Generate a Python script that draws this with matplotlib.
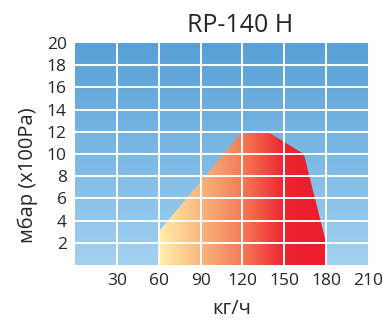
import numpy as np
import matplotlib.pyplot as plt
from matplotlib.colors import LinearSegmentedColormap
from matplotlib.patches import Polygon

plt.rcParams['font.family'] = ['Open Sans', 'DejaVu Sans']

# working field of the burner (flow kg/h, pressure mbar)
flow = [60, 60, 120, 138, 164, 180, 180]
pressure = [0, 3, 12, 12, 10, 2, 0]

x_ticks = [30, 60, 90, 120, 150, 180, 210]
y_ticks = [2, 4, 6, 8, 10, 12, 14, 16, 18, 20]

txt = '#262626'

fig = plt.figure(figsize=(3.83, 3.2), dpi=100)
ax = fig.add_axes([75/383, 1-265/320, 293/383, 222/320])
ax.set_xlim(0, 210)
ax.set_ylim(0, 20)

# background blue gradient
bg = LinearSegmentedColormap.from_list('bg', ['#a3d1f1', '#56a0d7'])
ax.imshow(np.linspace(0, 1, 256).reshape(-1, 1), cmap=bg, origin='lower',
          extent=[0, 210, 0, 20], aspect='auto', zorder=0)

# polygon with horizontal gradient
fire = LinearSegmentedColormap.from_list('fire', [
    (0.0, '#fff0a8'), (0.25, '#f9b57c'), (0.5, '#f37a55'),
    (0.75, '#ee2330'), (1.0, '#ed1c2e')])
poly = Polygon(np.column_stack([flow, pressure]), closed=True,
               facecolor='none', edgecolor='none')
ax.add_patch(poly)
im = ax.imshow(np.linspace(0, 1, 256).reshape(1, -1), cmap=fire,
               extent=[60, 180, 0, 12], aspect='auto', zorder=1)
im.set_clip_path(poly)

for v in x_ticks[:-1]:
    ax.axvline(v, color='white', lw=1.4, zorder=3)
for v in y_ticks[:-1]:
    ax.axhline(v, color='white', lw=1.4, zorder=3)

ax.set_xticks(x_ticks)
ax.set_yticks(y_ticks)
ax.tick_params(length=0, labelsize=12.5, colors=txt, pad=6)
for s in ax.spines.values():
    s.set_visible(False)

ax.set_xlabel('кг/ч', fontsize=14.5, color=txt, labelpad=7, x=0.536)
ax.set_ylabel('мбар (x100Pa)', fontsize=14.5, color=txt, labelpad=6, y=0.403)
fig.text(240/383, 1-25/320, 'RP-140 H', ha='center', va='center',
         fontsize=18, color=txt)

fig.savefig('out.png', dpi=100)
